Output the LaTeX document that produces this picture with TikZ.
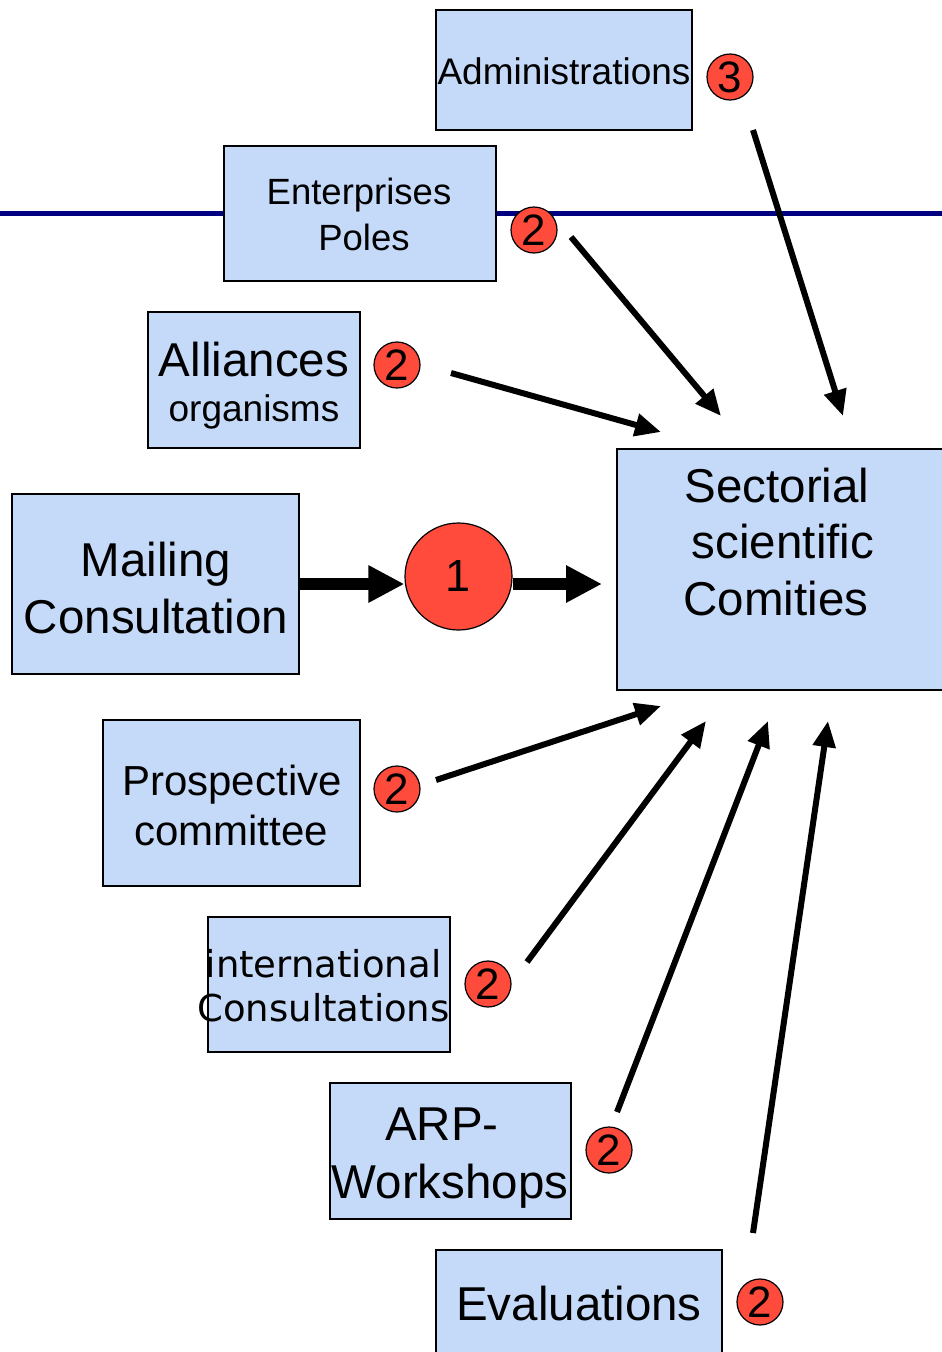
\documentclass[tikz,border=0pt]{standalone}
\usepackage{fontspec}
\setmainfont{Liberation Sans}
\newfontfamily\verdanalike{DejaVu Sans}
\usetikzlibrary{arrows.meta}
\definecolor{boxblue}{RGB}{197,217,248}
\definecolor{badgered}{RGB}{255,75,60}
\definecolor{navyline}{RGB}{0,0,128}
\newcommand{\fsz}[1]{\fontsize{#1}{#1}\selectfont}
\begin{document}
\begin{tikzpicture}[x=1pt,y=-1pt,
 box/.style={draw=black, line width=1.5pt, fill=boxblue, inner sep=0pt},
 badge/.style={circle, draw=black, line width=1.2pt, fill=badgered, inner sep=0pt, minimum size=46pt, font=\fsz{44}},
 lbl/.style={anchor=base, inner sep=0pt},
 thinarrow/.style={line width=6pt, -{Triangle[length=26pt,width=22pt]}},
 thickarrow/.style={line width=12pt, -{Triangle[length=36pt,width=35pt]}}]

\useasboundingbox (0,0) rectangle (942,1352);

% horizontal navy line
\coordinate (lineL) at (0,213);
\coordinate (lineR) at (942,213);
\draw[navyline, line width=5pt] (lineL) -- (lineR);

% boxes
\node[box, minimum width=256pt, minimum height=120pt] (admin) at (564,70) {};
\node[box, minimum width=272pt, minimum height=135pt] (enter) at (360,213.5) {};
\node[box, minimum width=212pt, minimum height=136pt] (alli) at (254,380) {};
\node[box, minimum width=287pt, minimum height=180pt] (mail) at (155.5,584) {};
\node[box, minimum width=330pt, minimum height=241pt] (sect) at (782,569.5) {};
\node[box, minimum width=257pt, minimum height=166pt] (prosp) at (231.5,803) {};
\node[box, minimum width=242pt, minimum height=135pt] (inter) at (329,984.5) {};
\node[box, minimum width=241pt, minimum height=136pt] (arp) at (450.5,1151) {};
\node[box, minimum width=286pt, minimum height=130pt] (eval) at (579,1315) {};

% texts
\node[lbl, font=\fsz{37}] (tadmin) at (564,84) {Administrations};
\node[lbl, font=\fsz{36.5}] (tent1) at (359,204) {Enterprises};
\node[lbl, font=\fsz{36.5}] (tent2) at (364,250) {Poles};
\node[lbl, font=\fsz{47.5}] (tall1) at (254,376) {Alliances};
\node[lbl, font=\fsz{37}] (tall2) at (254,421) {organisms};
\node[lbl, font=\fsz{47.5}] (tmail1) at (156,576) {Mailing};
\node[lbl, font=\fsz{47.5}] (tmail2) at (156,633) {Consultation};
\node[lbl, font=\fsz{47.5}] (tsect1) at (777,502) {Sectorial};
\node[lbl, font=\fsz{47.5}] (tsect2) at (783,558) {scientific};
\node[lbl, font=\fsz{47.5}] (tsect3) at (776,615) {Comities};
\node[lbl, font=\fsz{42}] (tpro1) at (232,795) {Prospective};
\node[lbl, font=\fsz{42}] (tpro2) at (231,845) {committee};
\node[lbl, font=\verdanalike\fsz{37}] (tint1) at (323.5,977) {international};
\node[lbl, font=\verdanalike\fsz{37}] (tint2) at (323.5,1021) {Consultations};
\node[lbl, font=\fsz{47.5}] (tarp1) at (442,1140) {ARP-};
\node[lbl, font=\fsz{47.5}] (tarp2) at (450,1198) {Workshops};
\node[lbl, font=\fsz{47.5}] (teval) at (579,1320) {Evaluations};

% badges
\node[badge] (b3) at (730,77) {3};
\node[badge] (b2a) at (534,230) {2};
\node[badge] (b2b) at (397,365) {2};
\node[badge] (b2c) at (397,789) {2};
\node[badge] (b2d) at (488,984) {2};
\node[badge] (b2e) at (609,1150) {2};
\node[badge] (b2f) at (760,1302) {2};
\node[badge, minimum size=107pt, font=\fsz{45}] (c1) at (458.5,576.5) {1};

% thick arrows
\coordinate (mailend) at (602,584);
\draw[thickarrow] (mail.east) -- (c1.west |- mail.east);
\draw[thickarrow] (c1.east |- mail.east) -- (mailend);

% thin arrows
\coordinate (s1) at (753,130);  \coordinate (e1) at (843,416);
\coordinate (s2) at (571,237);  \coordinate (e2) at (721,416);
\coordinate (s3) at (451,373);  \coordinate (e3) at (661,432);
\coordinate (s4) at (436,780);  \coordinate (e4) at (661,706);
\coordinate (s5) at (527,962);  \coordinate (e5) at (706,721);
\coordinate (s6) at (617,1112); \coordinate (e6) at (768,721);
\coordinate (s7) at (753,1233); \coordinate (e7) at (828,721);
\draw[thinarrow] (s1) -- (e1);
\draw[thinarrow] (s2) -- (e2);
\draw[thinarrow] (s3) -- (e3);
\draw[thinarrow] (s4) -- (e4);
\draw[thinarrow] (s5) -- (e5);
\draw[thinarrow] (s6) -- (e6);
\draw[thinarrow] (s7) -- (e7);
\end{tikzpicture}
\end{document}
